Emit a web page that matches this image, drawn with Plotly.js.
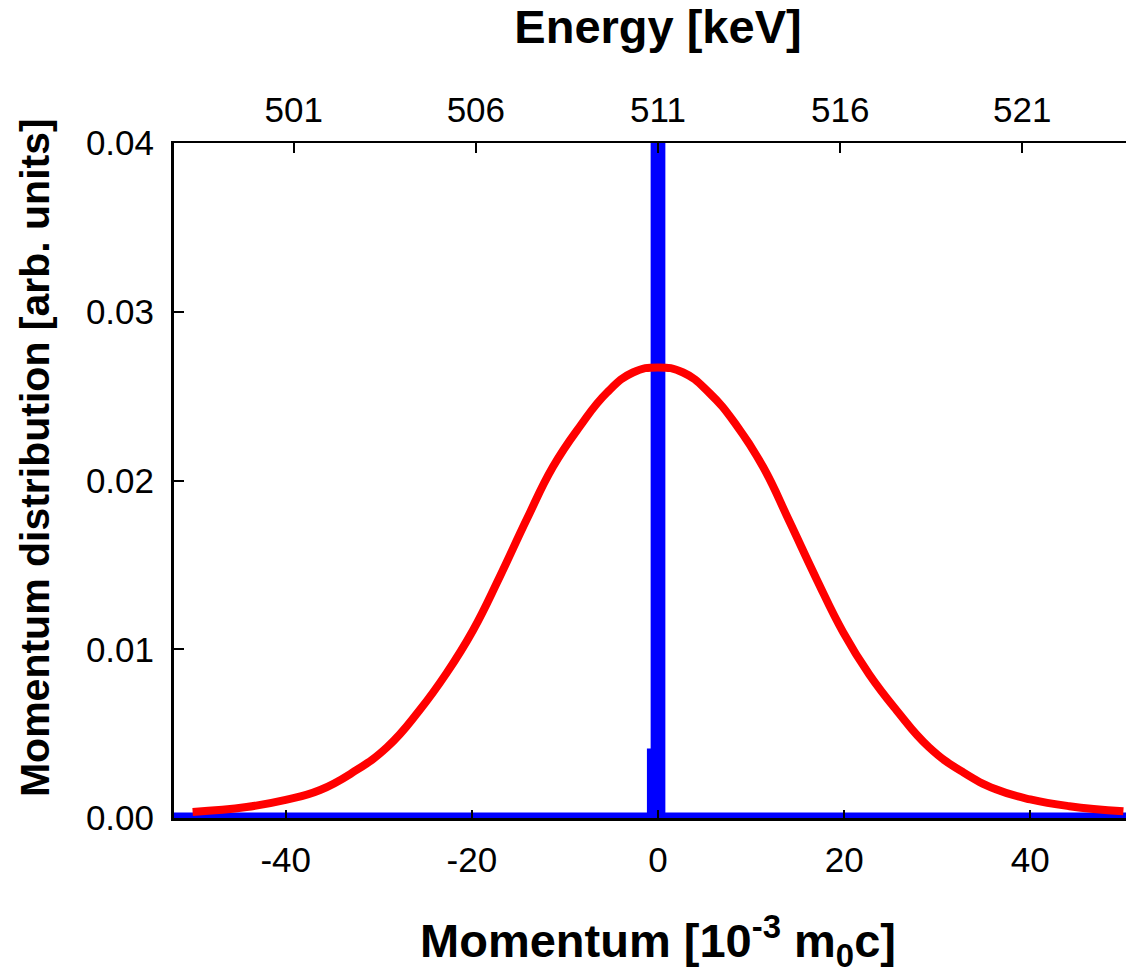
<!DOCTYPE html>
<html>
<head>
<meta charset="utf-8">
<script src="https://cdn.plot.ly/plotly-3.0.1.min.js"></script>
<style>
  html, body { margin: 0; padding: 0; background: #fff; overflow: hidden; }
  #wrap { width: 1126px; height: 978px; overflow: hidden; }
  #plot { width: 1150px; height: 978px; }
</style>
</head>
<body>
<div id="wrap"><div id="plot"></div></div>
<script>
// Momentum [10^-3 m0c] and distribution values
const broadX = [-50, -44.2, -40, -36.3, -32.8, -29.1, -25.6, -22.7, -19.9, -17, -14.1, -11.3, -8.4, -5.5, -2.7, 0,
                 2.7, 5.5, 8.4, 11.3, 14.1, 17, 19.9, 22.7, 25.6, 29.1, 32.8, 36.3, 40, 44.2, 50];
const broadY = [0.00036, 0.00065, 0.00107, 0.00166, 0.0027, 0.0042, 0.0064, 0.0086, 0.0111, 0.0143, 0.0177, 0.0208, 0.0232, 0.0252, 0.0264, 0.0267,
                0.0264, 0.0252, 0.0233, 0.0208, 0.0176, 0.0142, 0.0110, 0.0085, 0.0064, 0.0042, 0.0027, 0.0017, 0.0011, 0.0007, 0.0004];

// narrow (blue) distribution: flat zero with a sharp spike at 0 that leaves the frame
const narrowX = [-53, -0.6, -0.6, -0.2, -0.2, 0.2, 0.2, 53];
const narrowY = [0, 0, 0.0038, 0.0038, 0.08, 0.08, 0, 0];

// tick labels
const momentumTicks = [-40, -20, 0, 20, 40];
const energyTicks = [501, 506, 511, 516, 521];
const yTicks = [0.00, 0.01, 0.02, 0.03, 0.04];

// energy scale: E = 511 keV + p * (m0c^2 / 2), p in 10^-3 m0c
const M0C2 = 511;
const xRange = [-52, 52];
const eRange = xRange.map(p => M0C2 + p * M0C2 / 2 / 1000);

const FONT = 'Liberation Sans, Arial, sans-serif';

const traces = [
  {
    x: narrowX, y: narrowY, type: 'scatter', mode: 'lines',
    line: { color: '#0000FF', width: 11 }, hoverinfo: 'skip', showlegend: false
  },
  {
    x: broadX, y: broadY, type: 'scatter', mode: 'lines',
    line: { color: '#FF0000', width: 8, shape: 'spline', smoothing: 1.3 }, showlegend: false
  },
  {
    x: energyTicks, y: energyTicks.map(() => 0), xaxis: 'x2', type: 'scatter', mode: 'markers',
    marker: { opacity: 0 }, hoverinfo: 'skip', showlegend: false
  }
];

const layout = {
  width: 1150, height: 978,
  margin: { l: 174, r: 8, t: 143, b: 160, pad: 0 },
  paper_bgcolor: '#fff', plot_bgcolor: '#fff',
  font: { family: FONT, color: '#000', size: 35 },
  showlegend: false,
  xaxis: {
    range: xRange, tickvals: momentumTicks, ticktext: momentumTicks.map(String),
    ticks: 'inside', ticklen: 8, tickwidth: 2, tickcolor: '#000',
    showline: true, linecolor: '#000', linewidth: 3, mirror: false,
    showgrid: false, zeroline: false,
    tickfont: { family: FONT, size: 35, color: '#000' },
    ticklabelstandoff: 9,
    title: { text: '<b>Momentum [10<sup>-3</sup> m<sub>0</sub>c]</b>', font: { family: FONT, size: 47, color: '#000' }, standoff: 47 },
    automargin: false
  },
  xaxis2: {
    overlaying: 'x', side: 'top', anchor: 'y', range: eRange,
    tickvals: energyTicks, ticktext: energyTicks.map(String),
    ticks: 'inside', ticklen: 10, tickwidth: 2, tickcolor: '#000',
    showline: true, linecolor: '#000', linewidth: 2,
    showgrid: false, zeroline: false,
    tickfont: { family: FONT, size: 35, color: '#000' },
    ticklabelstandoff: 5,
    title: { text: '<b>Energy [keV]</b>', font: { family: FONT, size: 47, color: '#000' }, standoff: 32 },
    automargin: false
  },
  yaxis: {
    range: [0, 0.04], tickvals: yTicks, ticktext: yTicks.map(v => v.toFixed(2)),
    ticks: 'inside', ticklen: 10, tickwidth: 2, tickcolor: '#000',
    showline: true, linecolor: '#000', linewidth: 3,
    showgrid: false, zeroline: false,
    tickfont: { family: FONT, size: 35, color: '#000' },
    ticklabelstandoff: 10,
    title: { text: '<b>\u00A0\u00A0\u00A0\u00A0Momentum distribution [arb. units]</b>', font: { family: FONT, size: 41, color: '#000' }, standoff: 24 },
    automargin: false
  }
};

Plotly.newPlot('plot', traces, layout, { displayModeBar: false, staticPlot: true });
</script>
</body>
</html>
